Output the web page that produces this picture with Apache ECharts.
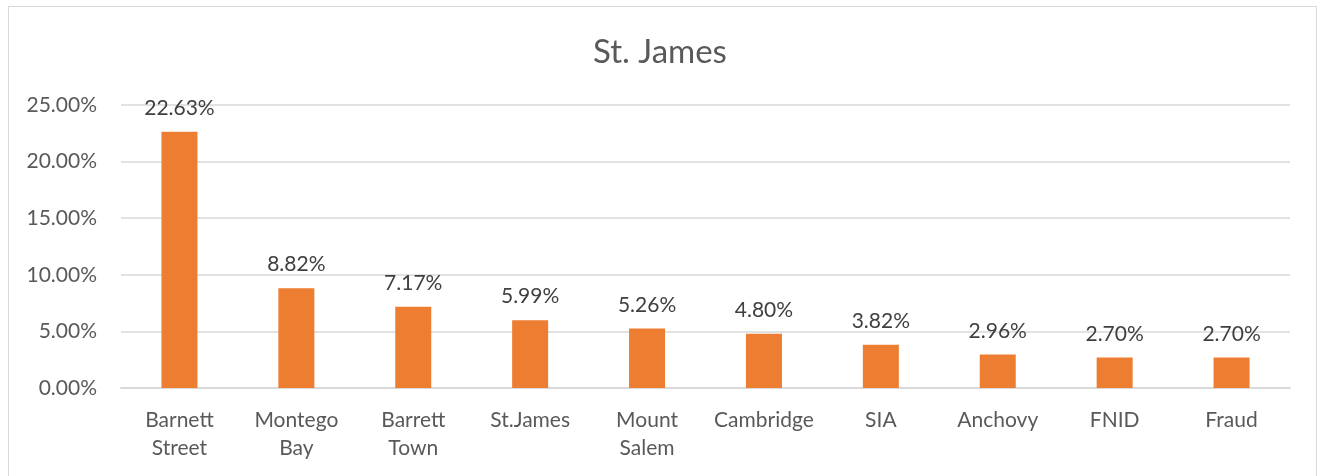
<!DOCTYPE html>
<html>
<head>
<meta charset="utf-8">
<script src="https://cdn.jsdelivr.net/npm/echarts@6/dist/echarts.min.js"></script>
<style>
  html, body { margin: 0; padding: 0; background: #fff; }
  #frame { position: absolute; left: 8px; top: 6px; width: 1309px; height: 480px; border: 1px solid #d9d9d9; box-sizing: border-box; }
  #chart { width: 1320px; height: 476px; }
</style>
</head>
<body>
<div id="frame"></div>
<div id="chart"></div>
<script>
// data
const categories = ['Barnett\nStreet', 'Montego\nBay', 'Barrett\nTown', 'St.James', 'Mount\nSalem', 'Cambridge', 'SIA', 'Anchovy', 'FNID', 'Fraud'];
const shares = [22.63, 8.82, 7.17, 5.99, 5.26, 4.80, 3.82, 2.96, 2.70, 2.70];
const yTicks = [0, 5, 10, 15, 20, 25];

const chart = echarts.init(document.getElementById('chart'));
const textColor = '#595959';
const font = 'Lato, "Open Sans", sans-serif';

chart.setOption({
  animation: false,
  title: {
    text: 'St. James',
    left: 'center',
    top: 31,
    textStyle: { fontFamily: font, fontWeight: 'normal', fontSize: 33, color: textColor }
  },
  grid: { left: 121, right: 30, top: 105, bottom: 88 },
  xAxis: {
    type: 'category',
    data: categories,
    axisLine: { lineStyle: { color: '#d9d9d9', width: 2 } },
    axisTick: { show: false },
    axisLabel: { interval: 0, fontFamily: font, fontSize: 21, color: textColor, lineHeight: 28, margin: 18 }
  },
  yAxis: {
    type: 'value',
    min: yTicks[0],
    max: yTicks[yTicks.length - 1],
    interval: 5,
    axisLine: { show: false },
    axisTick: { show: false },
    splitLine: { lineStyle: { color: '#d9d9d9', width: 1.5 } },
    axisLabel: {
      fontFamily: font, fontSize: 21, color: textColor, margin: 24,
      formatter: v => v.toFixed(2) + '%'
    }
  },
  series: [{
    type: 'bar',
    data: shares,
    barWidth: 36,
    itemStyle: { color: '#ED7D31' },
    label: {
      show: true,
      position: 'top',
      distance: 13,
      fontFamily: font,
      fontSize: 21,
      color: '#404040',
      formatter: p => p.value.toFixed(2) + '%'
    }
  }]
});
</script>
</body>
</html>
